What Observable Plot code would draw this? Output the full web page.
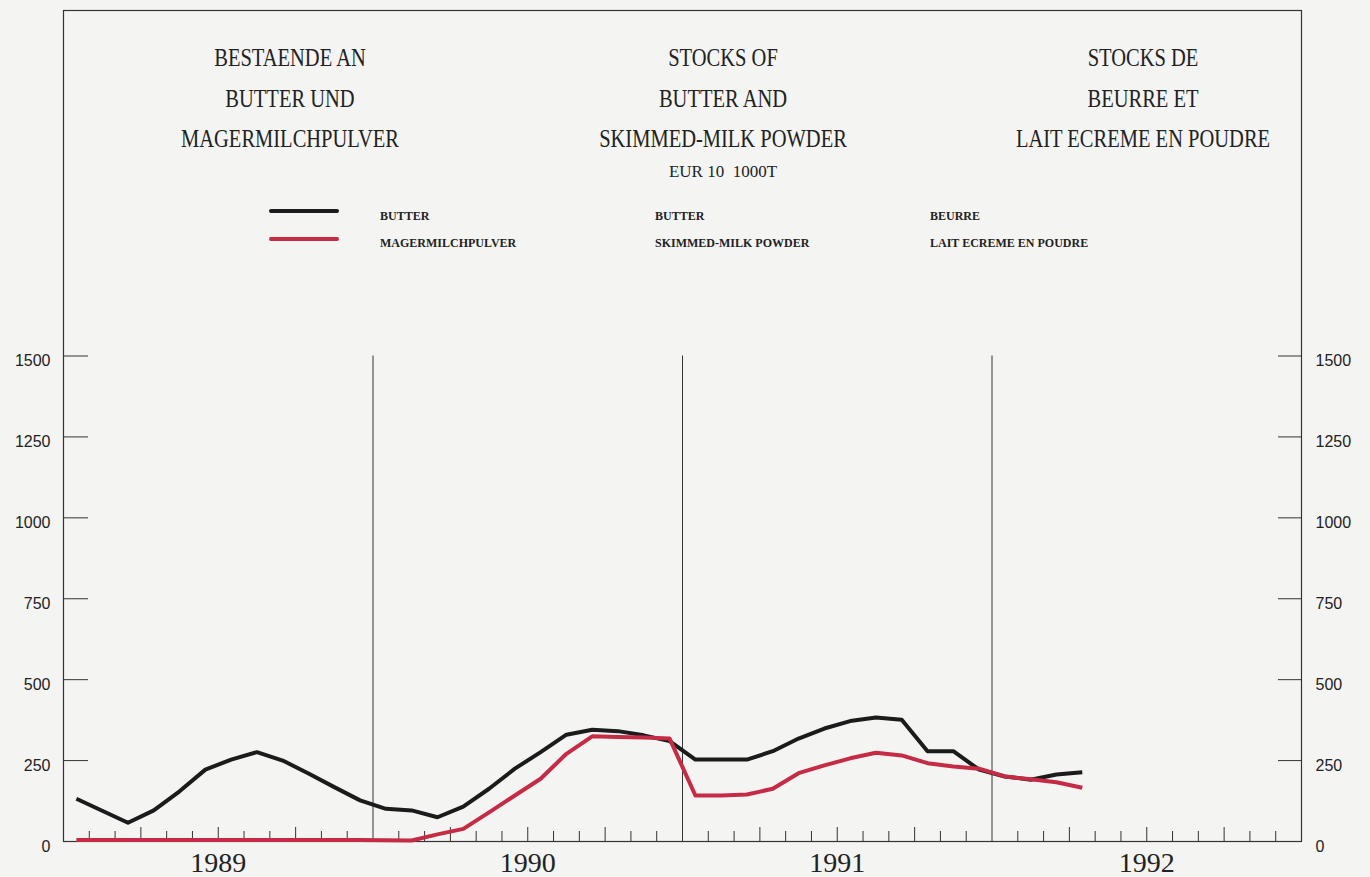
<!DOCTYPE html>
<html><head><meta charset="utf-8">
<script src="https://cdn.jsdelivr.net/npm/d3@7"></script>
<script src="https://cdn.jsdelivr.net/npm/@observablehq/plot@0.6"></script>
<style>
html,body{margin:0;padding:0;background:#f4f4f3;overflow:hidden;}
#wrap{position:relative;width:1370px;height:877px;overflow:hidden;}
#wrap svg{position:absolute;left:0;top:0;}
.t{position:absolute;font-family:"Liberation Serif",serif;color:#222;white-space:pre;line-height:1;}
.title{font-size:20.5px;transform:translateX(-50%) scaleY(1.25);}
.sub{font-size:17px;transform:translateX(-50%);}
.leg{font-size:12px;font-weight:bold;}
.sw{position:absolute;height:4px;border-radius:2px;width:70px;}
</style></head><body><div id="wrap"></div>
<script>
// ---- data ----
const years = [1989, 1990, 1991, 1992];
const seriesKeys = ["butter", "smp"];
// monthly stocks, Jan 1989 .. Apr 1992 (1000 t)
const butter = [
  132, 95, 58, 96, 155, 222, 253, 276, 250, 210, 168, 127,
  101, 96, 75, 108, 163, 225, 276, 330, 345, 341, 328, 310,
  253, 253, 253, 279, 318, 349, 372, 383, 376, 279, 279, 222,
  201, 191, 207, 214
];
const skimmedMilk = [
  5, 5, 5, 5, 5, 5, 5, 5, 5, 5, 5, 5,
  4, 3, 22, 39, 90, 142, 194, 271, 325, 323, 321, 318,
  142, 142, 145, 163, 211, 235, 257, 274, 266, 242, 232, 225,
  201, 192, 183, 166
];
const yTicks = [0, 250, 500, 750, 1000, 1250, 1500];
const titleDE = ["BESTAENDE AN", "BUTTER UND", "MAGERMILCHPULVER"];
const titleEN = ["STOCKS OF", "BUTTER AND", "SKIMMED-MILK POWDER"];
const titleFR = ["STOCKS DE", "BEURRE ET", "LAIT ECREME EN POUDRE"];
const unitLabel = "EUR 10  1000T";
const legendDE = ["BUTTER", "MAGERMILCHPULVER"];
const legendEN = ["BUTTER", "SKIMMED-MILK POWDER"];
const legendFR = ["BEURRE", "LAIT ECREME EN POUDRE"];
const seriesColors = ["#1b1b1b", "#c62b45"];

// ---- layout constants ----
const W = 1370, H = 877;
const mL = 63, mR = 69, mT = 10, mB = 36;
const yTop = 1500 * (H - mB - mT) / 485.5;
const nMonths = years.length * 12;

const table = [];
butter.forEach((v, i) => table.push({t: i + 0.5, value: v, series: "butter"}));
skimmedMilk.forEach((v, i) => table.push({t: i + 0.5, value: v, series: "smp"}));

const yearBounds = d3.range(12, nMonths, 12);
const monthTicks = d3.range(1, nMonths).filter(m => m % 12 !== 0);
const minorTicks = monthTicks.filter(m => m % 3 !== 0);
const quarterTicks = monthTicks.filter(m => m % 3 === 0);
const yearCenters = years.map((y, i) => i * 12 + 6);

const plot = Plot.plot({
  width: W, height: H,
  marginLeft: mL, marginRight: mR, marginTop: mT, marginBottom: mB,
  style: {background: "transparent", color: "#222", overflow: "visible"},
  x: {domain: [0, nMonths], axis: null},
  y: {domain: [0, yTop], axis: null},
  color: {domain: seriesKeys, range: seriesColors},
  marks: [
    Plot.frame({stroke: "#333", strokeWidth: 1.2}),
    Plot.ruleX(yearBounds, {x: d => d, y1: 0, y2: 1500, stroke: "#333", strokeWidth: 1}),
    Plot.axisX(minorTicks, {anchor: "bottom", tickSize: -10, tickFormat: () => "", label: null, stroke: "#333"}),
    Plot.axisX(quarterTicks, {anchor: "bottom", tickSize: -14, tickFormat: () => "", label: null, stroke: "#333"}),
    Plot.axisX(yearCenters, {anchor: "bottom", tickSize: 0, tickPadding: 11,
      tickFormat: m => String(years[Math.floor(m / 12)]), label: null,
      fontSize: 28, fontFamily: "Liberation Serif", fill: "#222"}),
    Plot.axisY(yTicks, {anchor: "left", tickSize: -25, tickFormat: () => "", label: null, stroke: "#333"}),
    Plot.axisY(yTicks, {anchor: "right", tickSize: -24, tickFormat: () => "", label: null, stroke: "#333"}),
    Plot.axisY(yTicks, {anchor: "left", tickSize: 0, tickPadding: 13, tickFormat: d => String(d), label: null,
      fontSize: 16, fontFamily: "Liberation Sans", dy: 5, fill: "#222"}),
    Plot.axisY(yTicks, {anchor: "right", tickSize: 0, tickPadding: 14, tickFormat: d => String(d), label: null,
      fontSize: 16, fontFamily: "Liberation Sans", dy: 5, fill: "#222"}),
    Plot.line(table, {x: "t", y: "value", z: "series", stroke: "series", strokeWidth: 4,
      strokeLinejoin: "round", strokeLinecap: "butt"})
  ]
});

const wrap = document.getElementById("wrap");
wrap.appendChild(plot);

function addText(txt, cls, x, yc, size, center) {
  const d = document.createElement("div");
  d.className = "t " + cls;
  d.textContent = txt;
  d.style.left = x + "px";
  d.style.top = (yc - size / 2) + "px";
  wrap.appendChild(d);
}
const colX = [290, 723, 1143];
const lineY = [57, 98, 138];
[titleDE, titleEN, titleFR].forEach((lines, c) =>
  lines.forEach((s, r) => addText(s, "title", colX[c], lineY[r], 20.5)));
addText(unitLabel, "sub", colX[1], 171, 17);

const legX = [380, 655, 930];
const legY = [216, 243];
[legendDE, legendEN, legendFR].forEach((labels, c) =>
  labels.forEach((s, r) => addText(s, "leg", legX[c], legY[r], 12)));
const swY = [211, 239];
seriesColors.forEach((col, r) => {
  const s = document.createElement("div");
  s.className = "sw";
  s.style.background = col;
  s.style.left = "269px";
  s.style.top = (swY[r] - 2) + "px";
  wrap.appendChild(s);
});
</script></body></html>
